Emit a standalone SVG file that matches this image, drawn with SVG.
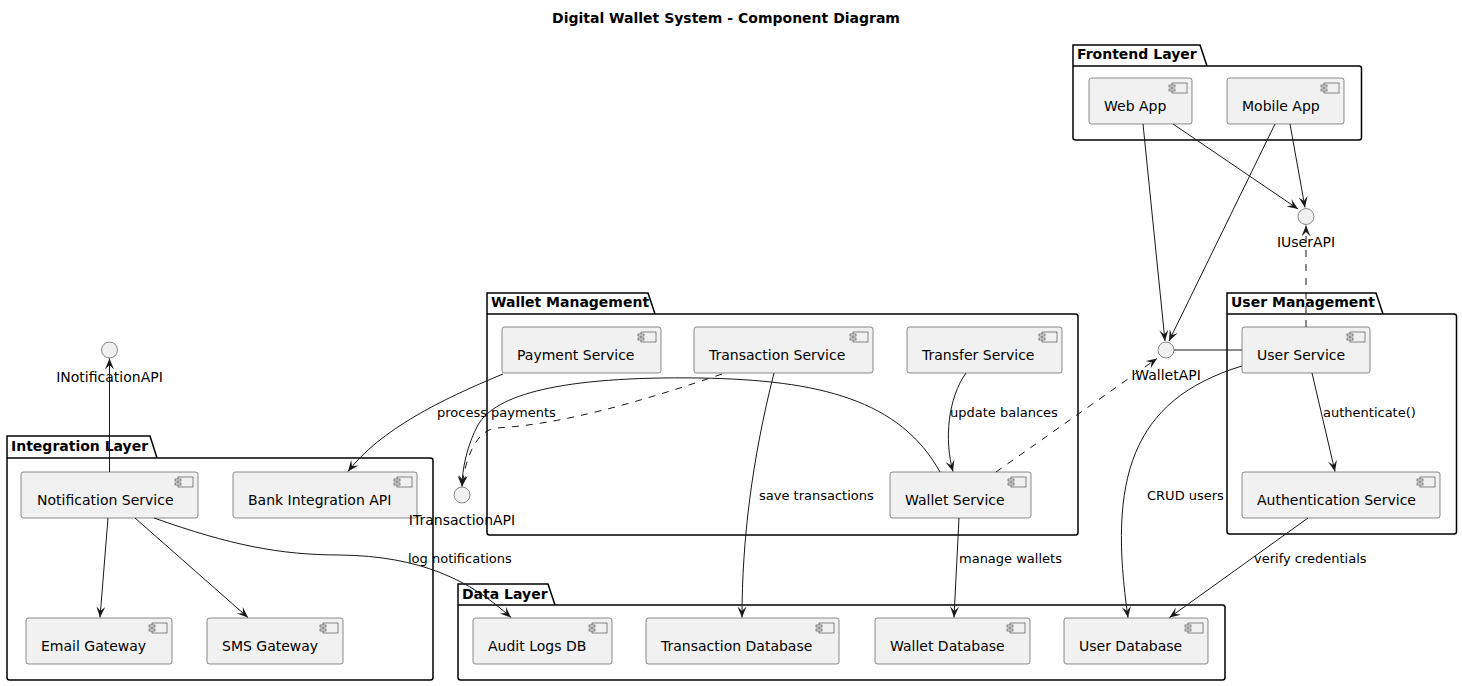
<svg xmlns="http://www.w3.org/2000/svg" width="1462" height="686" viewBox="0 0 1462 686">
<defs>
<style>
text{font-family:"DejaVu Sans","Liberation Sans",sans-serif;fill:#000}
.title{font-size:14px;font-weight:bold}
.pkg{fill:none;stroke:#000;stroke-width:1.5}
.pkgt{font-size:14px;font-weight:bold}
.comp{fill:#F1F1F1;stroke:#181818;stroke-width:0.5}
.icon{fill:#F1F1F1;stroke:#181818;stroke-width:0.5}
.cl{font-size:14px}
.ifc{fill:#F1F1F1;stroke:#181818;stroke-width:0.5}
.il{font-size:14px;text-anchor:middle}
.ln{fill:none;stroke:#181818;stroke-width:1}
.arr{marker-end:url(#ah)}
.dash{stroke-dasharray:7,7}
.el{font-size:13px}
</style>
<marker id="ah" markerUnits="userSpaceOnUse" markerWidth="13" markerHeight="11" refX="11" refY="4.5" orient="auto">
<path d="M0,0 L11,4.5 L0,9 L4.5,4.5 Z" fill="#181818"/>
</marker>
<g id="ci"><rect x="-20" y="5" width="15" height="10" class="icon"/><rect x="-23" y="7" width="6" height="2" class="icon"/><rect x="-23" y="11" width="6" height="2" class="icon"/></g>
</defs>
<rect width="1462" height="686" fill="#fff"/>
<text class="title" x="726" y="23" text-anchor="middle">Digital Wallet System - Component Diagram</text>

<g id="pkg-frontend">
<path class="pkg" d="M1073,45 H1200 L1207,66 H1359 Q1361.5,66 1361.5,68.5 V137.5 Q1361.5,140 1359,140 H1075.5 Q1073,140 1073,137.5 Z M1073,66 H1207"/>
<text class="pkgt" x="1077" y="59">Frontend Layer</text>
</g>
<g id="pkg-user">
<path class="pkg" d="M1227,293 H1376 L1383,314 H1454 Q1456.5,314 1456.5,316.5 V531.5 Q1456.5,534 1454,534 H1229.5 Q1227,534 1227,531.5 Z M1227,314 H1383"/>
<text class="pkgt" x="1231" y="307">User Management</text>
</g>
<g id="pkg-wallet">
<path class="pkg" d="M487,293 H648 L655,314 H1075.5 Q1078,314 1078,316.5 V532.5 Q1078,535 1075.5,535 H489.5 Q487,535 487,532.5 Z M487,314 H655"/>
<text class="pkgt" x="491" y="307">Wallet Management</text>
</g>
<g id="pkg-integration">
<path class="pkg" d="M7,436 H150 L157,458 H430.5 Q433,458 433,460.5 V677.5 Q433,680 430.5,680 H9.5 Q7,680 7,677.5 Z M7,458 H157"/>
<text class="pkgt" x="11" y="451">Integration Layer</text>
</g>
<g id="pkg-data">
<path class="pkg" d="M458,584 H548 L555,605 H1222.5 Q1225,605 1225,607.5 V677.5 Q1225,680 1222.5,680 H460.5 Q458,680 458,677.5 Z M458,605 H555"/>
<text class="pkgt" x="462" y="599">Data Layer</text>
</g>

<g id="webapp"><rect class="comp" x="1089" y="78" width="103" height="46" rx="2.5"/><use href="#ci" x="1192" y="78"/><text class="cl" x="1104" y="111">Web App</text></g>
<g id="mobileapp"><rect class="comp" x="1227" y="78" width="117" height="46" rx="2.5"/><use href="#ci" x="1344" y="78"/><text class="cl" x="1242" y="111">Mobile App</text></g>
<g id="userservice"><rect class="comp" x="1242" y="327" width="128" height="46" rx="2.5"/><use href="#ci" x="1370" y="327"/><text class="cl" x="1257" y="360">User Service</text></g>
<g id="authservice"><rect class="comp" x="1242" y="472" width="198" height="46" rx="2.5"/><use href="#ci" x="1440" y="472"/><text class="cl" x="1257" y="505">Authentication Service</text></g>
<g id="paymentservice"><rect class="comp" x="502" y="327" width="159" height="46" rx="2.5"/><use href="#ci" x="661" y="327"/><text class="cl" x="517" y="360">Payment Service</text></g>
<g id="transactionservice"><rect class="comp" x="694" y="327" width="179" height="46" rx="2.5"/><use href="#ci" x="873" y="327"/><text class="cl" x="709" y="360">Transaction Service</text></g>
<g id="transferservice"><rect class="comp" x="907" y="327" width="155" height="46" rx="2.5"/><use href="#ci" x="1062" y="327"/><text class="cl" x="922" y="360">Transfer Service</text></g>
<g id="walletservice"><rect class="comp" x="890" y="472" width="141" height="46" rx="2.5"/><use href="#ci" x="1031" y="472"/><text class="cl" x="905" y="505">Wallet Service</text></g>
<g id="notificationservice"><rect class="comp" x="21" y="472" width="177" height="46" rx="2.5"/><use href="#ci" x="198" y="472"/><text class="cl" x="37" y="505">Notification Service</text></g>
<g id="bankapi"><rect class="comp" x="233" y="472" width="184" height="46" rx="2.5"/><use href="#ci" x="417" y="472"/><text class="cl" x="248" y="505">Bank Integration API</text></g>
<g id="emailgw"><rect class="comp" x="26" y="618" width="146" height="46" rx="2.5"/><use href="#ci" x="172" y="618"/><text class="cl" x="41" y="651">Email Gateway</text></g>
<g id="smsgw"><rect class="comp" x="207" y="618" width="136" height="46" rx="2.5"/><use href="#ci" x="343" y="618"/><text class="cl" x="222" y="651">SMS Gateway</text></g>
<g id="auditdb"><rect class="comp" x="473" y="618" width="139" height="46" rx="2.5"/><use href="#ci" x="612" y="618"/><text class="cl" x="488" y="651">Audit Logs DB</text></g>
<g id="transactiondb"><rect class="comp" x="646" y="618" width="193" height="46" rx="2.5"/><use href="#ci" x="839" y="618"/><text class="cl" x="661" y="651">Transaction Database</text></g>
<g id="walletdb"><rect class="comp" x="875" y="618" width="155" height="46" rx="2.5"/><use href="#ci" x="1030" y="618"/><text class="cl" x="890" y="651">Wallet Database</text></g>
<g id="userdb"><rect class="comp" x="1064" y="618" width="144" height="46" rx="2.5"/><use href="#ci" x="1208" y="618"/><text class="cl" x="1079" y="651">User Database</text></g>

<g id="iuserapi"><circle class="ifc" cx="1306" cy="216.5" r="8"/><text class="il" x="1306" y="247">IUserAPI</text></g>
<g id="iwalletapi"><circle class="ifc" cx="1166" cy="350" r="8"/><text class="il" x="1166" y="380">IWalletAPI</text></g>
<g id="inotificationapi"><circle class="ifc" cx="109.5" cy="350" r="8"/><text class="il" x="109.5" y="382">INotificationAPI</text></g>
<g id="itransactionapi"><circle class="ifc" cx="462" cy="495" r="8"/><text class="il" x="462" y="525">ITransactionAPI</text></g>

<g id="connectors">
<path class="ln arr" d="M1143,124 L1165,341"/>
<path class="ln arr" d="M1275,124 L1169,341"/>
<path class="ln arr" d="M1173,124 L1298,209"/>
<path class="ln arr" d="M1290,124 L1305,207.5"/>
<path class="ln arr dash" d="M1306,327 L1306,225.5"/>
<path class="ln" d="M1174,350 L1242,350"/>
<path class="ln arr" d="M1312,373 L1335,471.5"/>
<text class="el" x="1323" y="417">authenticate()</text>
<path class="ln arr" d="M1242,366 C1130,400 1108,480 1128,617.5"/>
<text class="el" x="1147" y="500">CRUD users</text>
<path class="ln arr" d="M1308,518 L1169.5,617.5"/>
<text class="el" x="1254" y="563">verify credentials</text>
<path class="ln arr dash" d="M996,472 L1157,358.5"/>
<path class="ln arr" d="M966,373 C948,398 944,440 953,471.5"/>
<text class="el" x="950" y="417">update balances</text>
<path class="ln arr" d="M959,518 L954,617.5"/>
<text class="el" x="959" y="563">manage wallets</text>
<path class="ln arr" d="M774,373 C752,460 742,540 742,617.5"/>
<text class="el" x="759" y="500">save transactions</text>
<path class="ln arr dash" d="M722,374 C640,402 560,425 495,428 C475,432 465,460 462,486.5"/>
<path class="ln arr" d="M940,472 C900,400 820,380 700,378 C560,376 495,395 478,425 C467,445 462,470 462,486.5"/>
<path class="ln arr" d="M503,374 C440,400 380,430 348,471.5"/>
<text class="el" x="437" y="417">process payments</text>
<path class="ln arr" d="M109.5,472 L109.5,358.5"/>
<path class="ln arr" d="M108,518 L100,617.5"/>
<path class="ln arr" d="M135,518 L248,617.5"/>
<path class="ln arr" d="M154,518 C230,545 280,555 340,555 C420,556 470,580 511,617.5"/>
<text class="el" x="408" y="563">log notifications</text>
</g>
</svg>
